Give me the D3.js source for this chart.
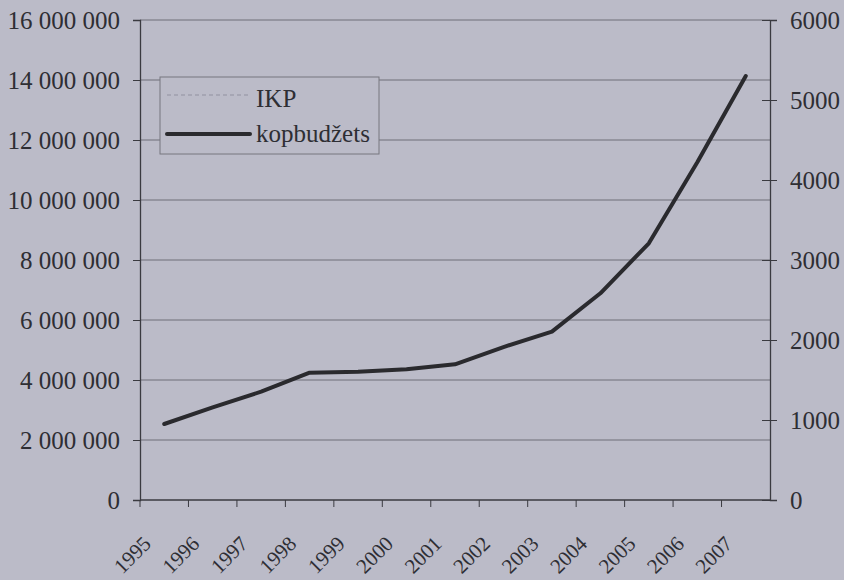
<!DOCTYPE html>
<html><head><meta charset="utf-8">
<script src="https://cdn.jsdelivr.net/npm/d3@7"></script>
<style>
html,body{margin:0;padding:0;background:#bbbbc8;}
svg{display:block;}
svg text{font-family:"Liberation Serif","Times New Roman",serif !important;fill:#2e2e34;}
</style></head>
<body>
<script>
const years = ["1995","1996","1997","1998","1999","2000","2001","2002","2003","2004","2005","2006","2007"];
const kopbudzets = [950,1158,1354,1592,1604,1634,1696,1912,2104,2584,3209,4221,5300];
const leftTicks = [0,2000000,4000000,6000000,8000000,10000000,12000000,14000000,16000000];
const rightTicks = [0,1000,2000,3000,4000,5000,6000];
const seriesNames = ["IKP","kopbudžets"];

const W=844,H=580;
const svg=d3.select("body").append("svg").attr("width",W).attr("height",H);
svg.append("rect").attr("width",W).attr("height",H).attr("fill","#bbbbc8");

const L=140,R=770,T=20,B=500;
const x=d3.scaleBand().domain(years).range([L,R]);
const yL=d3.scaleLinear().domain([0,16000000]).range([B,T]);
const yR=d3.scaleLinear().domain([0,6000]).range([B,T]);
const fmt=v=>d3.format(",")(v).replace(/,/g," ");
const ink="#3a3a40";

// gridlines
svg.append("g").selectAll("line").data(leftTicks.filter(d=>d>0)).join("line")
  .attr("x1",L).attr("x2",R).attr("y1",d=>yL(d)).attr("y2",d=>yL(d))
  .attr("stroke","#6e6e78").attr("stroke-width",1);

// left axis
const gl=svg.append("g").attr("transform",`translate(${L},0)`)
  .call(d3.axisLeft(yL).tickValues(leftTicks).tickFormat(fmt).tickSize(7).tickPadding(13));
gl.select(".domain").attr("stroke",ink).attr("stroke-width",1.3);
gl.selectAll(".tick line").attr("stroke",ink);
gl.selectAll(".tick text").attr("font-size",25);

// right axis
const gr=svg.append("g").attr("transform",`translate(${R},0)`)
  .call(d3.axisRight(yR).tickValues(rightTicks).tickFormat(d3.format("d")).tickSize(7).tickPadding(13));
gr.select(".domain").attr("stroke",ink).attr("stroke-width",1.3);
gr.selectAll(".tick line").attr("stroke",ink).attr("x1",-8);
gr.selectAll(".tick text").attr("font-size",25);

// x axis
svg.append("line").attr("x1",L).attr("x2",R).attr("y1",B).attr("y2",B).attr("stroke",ink).attr("stroke-width",1.3);
svg.append("g").selectAll("line").data(years).join("line")
  .attr("x1",d=>x(d)).attr("x2",d=>x(d)).attr("y1",B).attr("y2",B+7).attr("stroke",ink);
svg.append("g").selectAll("text").data(years).join("text")
  .attr("transform",d=>`translate(${x(d)+x.bandwidth()/2-12},545) rotate(-45)`)
  .attr("text-anchor","end").attr("font-size",21).text(d=>d);

// line
const line=d3.line().x((d,i)=>x(years[i])+x.bandwidth()/2).y(d=>yR(d));
svg.append("path").datum(kopbudzets).attr("d",line).attr("fill","none")
  .attr("stroke","#2a2a2e").attr("stroke-width",4).attr("stroke-linejoin","round").attr("stroke-linecap","round");

// legend
const lg=svg.append("g");
lg.append("rect").attr("x",160).attr("y",77).attr("width",219).attr("height",77)
  .attr("fill","#bbbbc8").attr("stroke","#77777f").attr("stroke-width",1);
lg.append("line").attr("x1",167).attr("x2",250).attr("y1",95).attr("y2",95)
  .attr("stroke","#a6a6b4").attr("stroke-width",2).attr("stroke-dasharray","4,3");
lg.append("line").attr("x1",167).attr("x2",250).attr("y1",134).attr("y2",134)
  .attr("stroke","#2a2a2e").attr("stroke-width",4).attr("stroke-linecap","round");
lg.selectAll("text").data(seriesNames).join("text")
  .attr("x",256).attr("y",(d,i)=>[107,142][i]).attr("font-size",25).text(d=>d);
</script>
</body></html>
